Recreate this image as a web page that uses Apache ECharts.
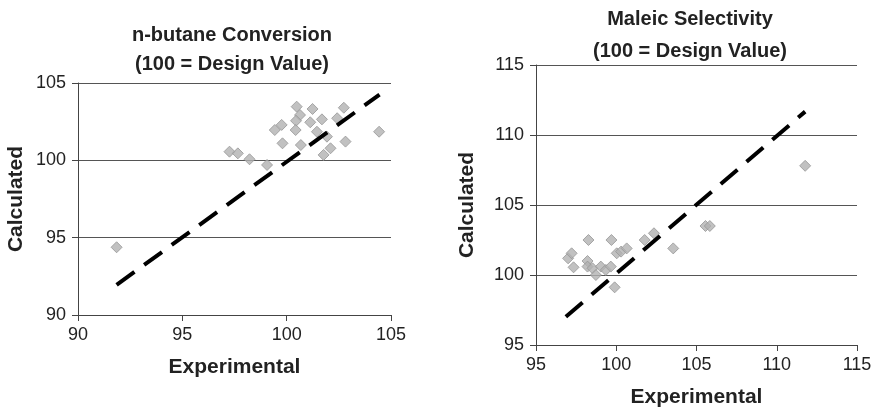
<!DOCTYPE html>
<html>
<head>
<meta charset="utf-8">
<script src="https://cdn.jsdelivr.net/npm/echarts@6/dist/echarts.min.js"></script>
<style>
  html, body { margin: 0; padding: 0; background: #fff; }
  #chart { width: 880px; height: 412px; }
</style>
</head>
<body>
<div id="chart"></div>
<script>
// n-butane conversion: [experimental, calculated]
const butanePoints = [
  [91.85, 94.38], [97.26, 100.56], [97.66, 100.45], [98.22, 100.07], [99.06, 99.7],
  [99.43, 101.96], [99.76, 102.29], [99.8, 101.1], [100.48, 103.47], [100.64, 102.93],
  [100.45, 102.56], [100.43, 101.96], [100.68, 100.99], [101.24, 103.32], [101.13, 102.46],
  [101.69, 102.65], [101.45, 101.85], [101.93, 101.53], [102.1, 100.78], [101.77, 100.35],
  [102.42, 102.72], [102.74, 103.4], [102.82, 101.21], [104.43, 101.85]
];
const butaneParity = [[91.85, 91.95], [104.45, 104.25]];

// maleic selectivity: [experimental, calculated]
const maleicPoints = [
  [97.0, 101.19], [97.22, 101.55], [97.34, 100.55], [98.27, 102.5], [98.21, 101.0],
  [98.21, 100.6], [98.52, 100.48], [98.73, 100.0], [99.04, 100.6], [99.35, 100.36],
  [99.7, 102.5], [99.66, 100.6], [99.9, 99.12], [100.03, 101.55], [100.3, 101.67],
  [100.65, 101.9], [101.77, 102.5], [102.35, 102.98], [103.55, 101.9], [105.56, 103.5],
  [105.83, 103.5], [111.77, 107.8]
];
const maleicParity = [[96.86, 97.02], [111.77, 111.67]];

const butaneRange = [90, 105];
const maleicRange = [95, 115];

const FONT = "'Liberation Sans', Arial, sans-serif";
const chart = echarts.init(document.getElementById("chart"), null, { renderer: "canvas" });

function xAxisFor(gridIndex, range) {
  return {
    gridIndex,
    type: "value",
    min: range[0],
    max: range[1],
    interval: 5,
    name: "Experimental",
    nameLocation: "middle",
    nameGap: 42,
    nameTextStyle: { fontFamily: FONT, fontSize: 21, fontWeight: "bold", color: "#222" },
    axisLine: { show: true, lineStyle: { color: "#444", width: 1 } },
    axisTick: { show: true, inside: false, length: 6, lineStyle: { color: "#444" } },
    axisLabel: { fontFamily: FONT, fontSize: 18, color: "#222", margin: 11 },
    splitLine: { show: false },
  };
}

function yAxisFor(gridIndex, range, nameGap) {
  return {
    gridIndex,
    type: "value",
    min: range[0],
    max: range[1],
    interval: 5,
    name: "Calculated",
    nameLocation: "middle",
    nameGap,
    nameRotate: 90,
    nameTextStyle: { fontFamily: FONT, fontSize: 21, fontWeight: "bold", color: "#222" },
    axisLine: { show: true, lineStyle: { color: "#444", width: 1 } },
    axisTick: { show: true, inside: false, length: 6, lineStyle: { color: "#444" } },
    axisLabel: { fontFamily: FONT, fontSize: 18, color: "#222", margin: 12 },
    splitLine: { show: true, lineStyle: { color: "#555", width: 1 } },
  };
}

const pointStyle = { color: "#b2b2b2", borderColor: "#969696", borderWidth: 1 };
const parityStyle = { color: "#000", width: 4, type: [22, 12] };

const titleStyle = { fontFamily: FONT, fontSize: 20, fontWeight: "bold", color: "#222", lineHeight: 29 };

chart.setOption({
  animation: false,
  title: [
    { text: "n-butane Conversion\n(100 = Design Value)", left: 232, top: 21, padding: 0, textAlign: "center", textStyle: titleStyle },
    { text: "Maleic Selectivity\n(100 = Design Value)", left: 690, top: 3, padding: 0, textAlign: "center", textStyle: { ...titleStyle, lineHeight: 32 } },
  ],
  grid: [
    { left: 78, top: 83, right: 489, bottom: 97, outerBoundsMode: "none" },
    { left: 536, top: 65, right: 23, bottom: 67, outerBoundsMode: "none" },
  ],
  xAxis: [xAxisFor(0, butaneRange), xAxisFor(1, maleicRange)],
  yAxis: [yAxisFor(0, butaneRange, 51), yAxisFor(1, maleicRange, 58)],
  series: [
    {
      type: "line", xAxisIndex: 0, yAxisIndex: 0, data: butaneParity,
      showSymbol: false, symbol: "none", lineStyle: parityStyle, z: 3,
    },
    {
      type: "scatter", xAxisIndex: 0, yAxisIndex: 0, data: butanePoints,
      symbol: "diamond", symbolSize: 11, itemStyle: pointStyle, z: 2,
    },
    {
      type: "line", xAxisIndex: 1, yAxisIndex: 1, data: maleicParity,
      showSymbol: false, symbol: "none", lineStyle: parityStyle, z: 3,
    },
    {
      type: "scatter", xAxisIndex: 1, yAxisIndex: 1, data: maleicPoints,
      symbol: "diamond", symbolSize: 11, itemStyle: pointStyle, z: 2,
    },
  ],
});
</script>
</body>
</html>
